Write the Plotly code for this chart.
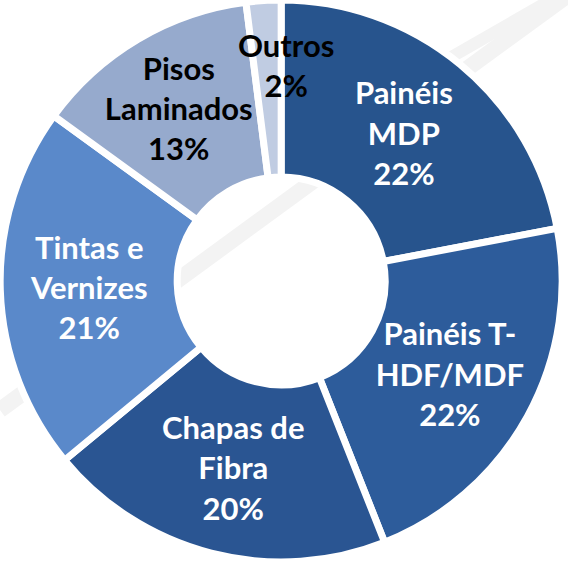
import math
import plotly.graph_objects as go

# Market share by product (percent)
labels = ['Painéis MDP', 'Painéis T-HDF/MDF', 'Chapas de Fibra',
          'Tintas e Vernizes', 'Pisos Laminados', 'Outros']
text_labels = ['Painéis<br>MDP', 'Painéis T-<br>HDF/MDF', 'Chapas de<br>Fibra',
               'Tintas e<br>Vernizes', 'Pisos<br>Laminados', 'Outros']
values = [22, 22, 20, 21, 13, 2]

colors = ['#27548d', '#2d5c9b', '#2a5592', '#5a89ca', '#96aacd', '#c0cce2']
text_colors = ['white', 'white', 'white', 'white', 'black', 'black']

W, H = 568, 562
FONT = 'Lato'
SIZE = 31

fig = go.Figure()

# faint diagonal bands of the slide background
for x0, y0, x1, y1, w in [(0, 410, 568, -5, 16), (420, 75, 568, -10, 12), (500, 40, 568, 0, 8)]:
    fig.add_shape(type='line', xref='paper', yref='paper', layer='below',
                  x0=x0 / W, y0=1 - y0 / H, x1=x1 / W, y1=1 - y1 / H,
                  line=dict(color='#f3f3f3', width=w))

fig.add_trace(go.Pie(
    labels=labels,
    values=values,
    text=text_labels,
    texttemplate='%{text}<br>%{percent:.0%}',
    textposition=['inside'] * 5 + ['none'],
    insidetextorientation='horizontal',
    textfont=dict(family=FONT, size=SIZE, color=text_colors, weight='bold'),
    hole=0.37,
    sort=False,
    direction='clockwise',
    rotation=0,
    domain=dict(x=[0, 0.99], y=[0, 1]),
    marker=dict(colors=colors, line=dict(color='white', width=7)),
    showlegend=False,
    hoverinfo='label+percent',
))

# the small "Outros" slice: its label sits over the slice, spilling onto neighbours
total = sum(values)
mid = (sum(values[:-1]) + values[-1] / 2) / total * 2 * math.pi
r = 0.385
fig.add_annotation(
    x=0.495 + r * (H / W) * math.sin(mid), y=0.5 + r * math.cos(mid),
    xref='paper', yref='paper', xanchor='center', yanchor='middle', xshift=18,
    text=f'{text_labels[-1]}<br>{values[-1] / total:.0%}',
    showarrow=False,
    font=dict(family=FONT, size=SIZE, color='black', weight='bold'),
)

fig.update_layout(
    width=W,
    height=H,
    margin=dict(l=0, r=0, t=0, b=0),
    paper_bgcolor='white',
    plot_bgcolor='white',
    font=dict(family=FONT),
    uniformtext=dict(minsize=SIZE, mode='show'),
)

# drop the browser's default page margin so the figure sits at the window corner
fig.write_html('out.html', config={'displayModeBar': False},
               post_script="document.body.style.margin = '0';")
